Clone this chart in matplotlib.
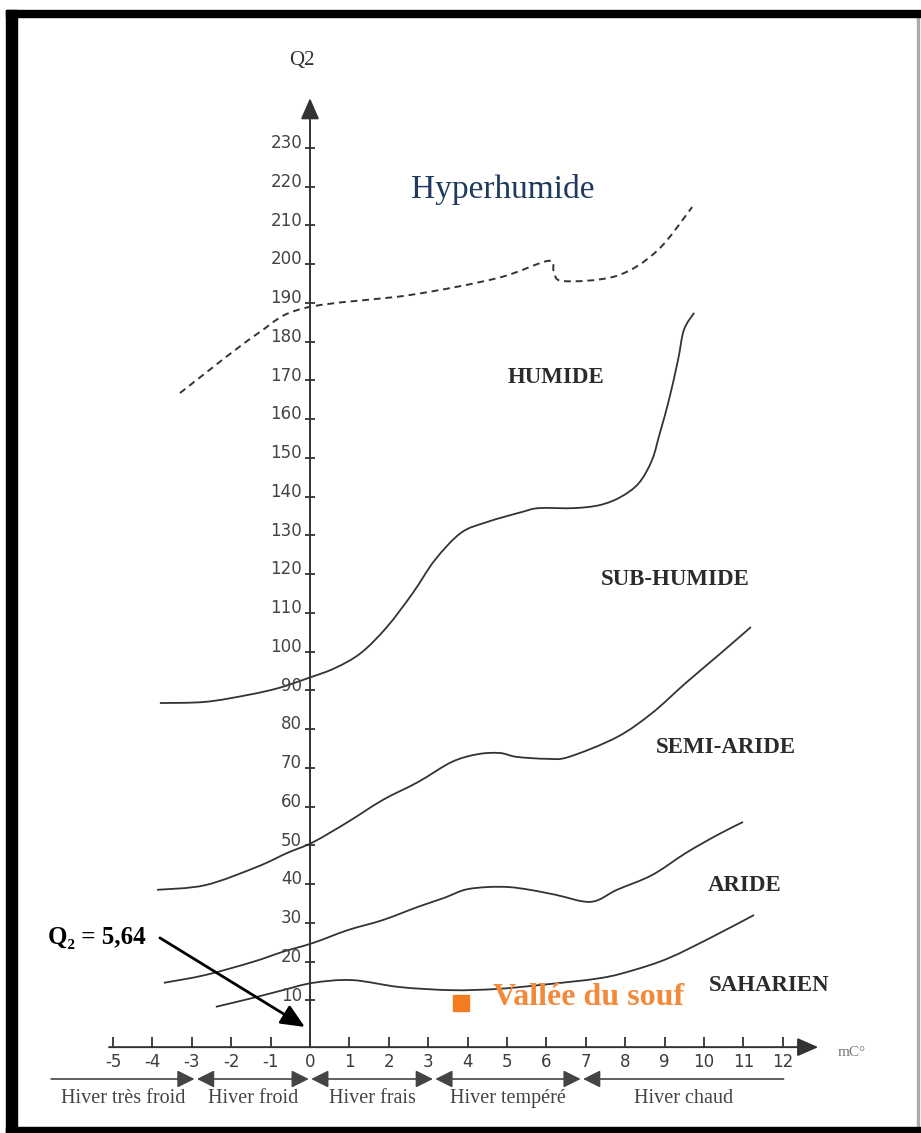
import matplotlib
matplotlib.use("Agg")
import matplotlib.pyplot as plt
import numpy as np
from matplotlib.patches import Rectangle, PathPatch
from matplotlib.path import Path

# Emberger climagram: m (°C) on x, Q2 on y
M_TICKS = list(range(-5, 13))
Q2_TICKS = list(range(10, 240, 10))

# boundaries between bioclimatic stages
T_HYPER = [-3.30, -1.35, -0.15, 2.54, 4.77, 6.04, 6.19, 6.42, 7.77, 8.81, 9.70]
Q_HYPER = [166.7, 181.9, 188.6, 192.0, 196.4, 200.8, 198.2, 195.6, 196.9, 203.4, 214.7]

T_HUMIDE = [-3.81, -2.66, -1.57, -0.79, -0.03, 0.63, 1.29, 1.95, 2.61, 3.17, 3.83, 4.49,
            5.38, 5.81, 6.70, 7.36, 7.89, 8.35, 8.68, 8.88, 9.11, 9.34, 9.49, 9.75]
Q_HUMIDE = [86.7, 87.0, 88.8, 90.6, 93.2, 95.7, 99.6, 106.3, 115.1, 123.6, 130.6, 133.4,
            136.0, 137.0, 137.0, 137.8, 139.9, 143.5, 149.4, 156.4, 164.9, 175.2, 183.0, 187.4]

T_SUBHUM = [-3.88, -2.66, -1.35, -0.58, 0.08, 0.96, 1.85, 2.74, 3.60, 4.26, 4.82, 5.25,
            6.04, 6.57, 7.79, 8.68, 9.54, 10.43, 11.19]
Q_SUBHUM = [38.5, 39.7, 44.4, 48.0, 50.8, 56.0, 61.7, 66.3, 71.5, 73.5, 73.8, 72.8,
            72.3, 72.8, 77.9, 84.1, 91.9, 99.6, 106.3]

T_SEMI = [-3.71, -2.66, -1.45, -0.69, 0.08, 0.96, 1.85, 2.74, 3.40, 3.93, 4.49, 5.05,
          5.58, 6.24, 7.13, 7.79, 8.68, 9.54, 10.33, 10.99]
Q_SEMI = [14.5, 16.5, 19.9, 22.5, 24.8, 28.1, 30.7, 34.1, 36.4, 38.5, 39.2, 39.2,
          38.5, 37.2, 35.4, 38.5, 42.3, 48.0, 52.6, 56.0]

T_ARIDE = [-2.39, -1.45, -0.69, 0.08, 1.07, 2.28, 3.60, 4.72, 5.81, 7.36, 8.22, 9.11, 10.20, 11.27]
Q_ARIDE = [8.3, 10.6, 12.6, 14.5, 15.2, 13.4, 12.6, 12.9, 13.9, 15.7, 17.8, 20.9, 26.3, 32.0]

# station
STATION_NAME = "Vallée du souf"
STATION_M = 3.83
STATION_Q2 = 9.3
Q2_TEXT = "Q₂ = 5,64"

# winter types along the m axis
SEASON_EDGES = [-6.6, -2.9, 0.0, 3.15, 6.9, 12.05]
SEASON_NAMES = ["Hiver très froid", "Hiver froid", "Hiver frais", "Hiver tempéré", "Hiver chaud"]

ZONES = ["HUMIDE", "SUB-HUMIDE", "SEMI-ARIDE", "ARIDE", "SAHARIEN"]
ZONE_POS = [(6.24, 170.8), (9.26, 118.5), (10.56, 75.1), (11.04, 39.7), (11.65, 13.7)]

W, H = 921, 1133
X0, PX_PER_M = 310, 39.4
Y0, PX_PER_Q = 1039, 3.875
XAXIS_Q = -2.1

LINE = "#333333"
SERIF = ["Liberation Serif", "DejaVu Serif"]


def smooth_path(t, q):
    # Catmull-Rom through the read points, drawn as cubic Bezier segments
    p = np.column_stack([np.asarray(t) * PX_PER_M, np.asarray(q) * PX_PER_Q])
    ext = np.vstack([p[0], p, p[-1]])
    verts = [p[0]]
    codes = [Path.MOVETO]
    for i in range(1, len(ext) - 2):
        c1 = ext[i] + (ext[i + 1] - ext[i - 1]) / 6
        c2 = ext[i + 1] - (ext[i + 2] - ext[i]) / 6
        verts += [c1, c2, ext[i + 1]]
        codes += [Path.CURVE4] * 3
    verts = np.array(verts) / [PX_PER_M, PX_PER_Q]
    return Path(verts, codes)


fig = plt.figure(figsize=(W / 100, H / 100), dpi=100)
ax = fig.add_axes([0, 0, 1, 1])
ax.set_xlim(-X0 / PX_PER_M, (W - X0) / PX_PER_M)
ax.set_ylim((Y0 - H) / PX_PER_Q, Y0 / PX_PER_Q)
ax.axis("off")

# frame of the scanned page
for x, y, w, h in [(6, 10, 915, 7), (6, 10, 11, 1123), (6, 1127, 915, 6)]:
    fig.patches.append(Rectangle((x / W, 1 - (y + h) / H), w / W, h / H,
                                 transform=fig.transFigure, color="black", zorder=10))
fig.patches.append(Rectangle((917 / W, 1 - 1127 / H), 1.5 / W, 1110 / H,
                             transform=fig.transFigure, color="#aaaaaa"))

# axes with arrows
arrow = dict(arrowstyle="-|>,head_length=0.8,head_width=0.35", lw=1.4, color=LINE,
             shrinkA=0, shrinkB=0, mutation_scale=16)
ax.annotate("", xy=(0, 242.8), xytext=(0, XAXIS_Q), arrowprops=arrow)
ax.annotate("", xy=(12.9, XAXIS_Q), xytext=(-5.1, XAXIS_Q), arrowprops=arrow)

# y ticks
ax.plot([0] * len(Q2_TICKS), Q2_TICKS, ls="none", marker="_", ms=7, mew=1.3, color=LINE)
for q in Q2_TICKS:
    ax.text(-0.2, q + 1.2, str(q), ha="right", va="center", fontsize=12, color="#444444")
ax.text(-0.2, 252.4, "Q2", ha="center", va="center", fontsize=15, color="#333333", family=SERIF)

# x ticks
ax.vlines(M_TICKS, XAXIS_Q, XAXIS_Q + 2.6, color=LINE, lw=1.3)
for m in M_TICKS:
    ax.text(m, -5.9, str(m), ha="center", va="center", fontsize=12, color="#3c3c3c")
ax.text(13.76, -3.4, "mC°", ha="center", va="center", fontsize=11, color="#777777", family=SERIF)

# boundaries
ax.add_patch(PathPatch(smooth_path(T_HYPER, Q_HYPER), fill=False, edgecolor=LINE, lw=1.4,
                       ls=(0, (3.5, 2.5))))
for t, q in [(T_HUMIDE, Q_HUMIDE), (T_SUBHUM, Q_SUBHUM), (T_SEMI, Q_SEMI), (T_ARIDE, Q_ARIDE)]:
    ax.add_patch(PathPatch(smooth_path(t, q), fill=False, edgecolor=LINE, lw=1.3))

# zone labels
ax.text(4.9, 219.1, "Hyperhumide", ha="center", va="center", fontsize=24,
        color="#1f3a5f", family=SERIF)
for name, (t, q) in zip(ZONES, ZONE_POS):
    ax.text(t, q, name, ha="center", va="center", fontsize=16.5, fontweight="bold",
            color="#2b2b2b", family=SERIF)

# station
ax.plot(STATION_M, STATION_Q2, marker="s", ms=11.5, color="#f47c20", ls="none")
ax.text(7.06, 10.8, STATION_NAME, ha="center", va="center", fontsize=23, fontweight="bold",
        color="#f28a3c", family=SERIF)
ax.text(-5.41, 26.3, Q2_TEXT, ha="center", va="center", fontsize=18, fontweight="bold",
        color="black", family=SERIF)
ax.annotate("", xy=(-0.13, 3.1), xytext=(-3.81, 26.1),
            arrowprops=dict(arrowstyle="-|>,head_length=0.9,head_width=0.4", lw=2,
                            color="black", shrinkA=0, shrinkB=0, mutation_scale=16))

# winter types
season_q = (Y0 - 1079) / PX_PER_Q
label_q = (Y0 - 1103) / PX_PER_Q
n = len(SEASON_NAMES)
for i, name in enumerate(SEASON_NAMES):
    a, b = SEASON_EDGES[i], SEASON_EDGES[i + 1]
    if i == 0:
        style = "-|>"
    elif i == n - 1:
        style = "<|-"
    else:
        style = "<|-|>"
    ax.annotate("", xy=(b - 0.03, season_q), xytext=(a + 0.03, season_q),
                arrowprops=dict(arrowstyle=style + ",head_length=0.7,head_width=0.35",
                                lw=1.2, color="#444444", shrinkA=0, shrinkB=0,
                                mutation_scale=15))
    ax.text((a + b) / 2, label_q, name, ha="center", va="baseline", fontsize=14.5,
            color="#444444", family=SERIF)

fig.savefig("out.png", dpi=100, facecolor="white")
